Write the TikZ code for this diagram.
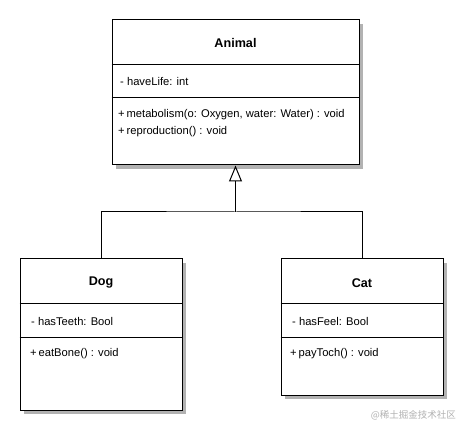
\documentclass[tikz,border=0pt]{standalone}
\usepackage{fontspec}
\setmainfont{Liberation Sans}
\newfontfamily\cjk{Noto Sans CJK SC}
\usetikzlibrary{arrows.meta}
\tikzset{
  umlbox/.style={draw=black, line width=1pt, fill=white, rectangle, inner sep=0pt},
  umlshadow/.style={fill=black!30, draw=none},
  title/.style={font=\fontsize{12.6}{14}\selectfont\bfseries, inner sep=0pt},
  member/.style={font=\fontsize{11.2}{12}\selectfont, anchor=west, inner sep=0pt},
  conn/.style={draw=black, line width=1pt},
  inherit/.style={conn, -{Triangle[open, length=16pt, width=13pt, line width=1pt]}},
}
\begin{document}
\begin{tikzpicture}[x=1pt, y=-1pt]
\fill[white] (0,0) rectangle (468,435);
\useasboundingbox (0,0) rectangle (468,435);
% shadows
\fill[umlshadow] (116,24) rectangle (363,169);
\fill[umlshadow] (24,263) rectangle (186,414);
\fill[umlshadow] (285,263) rectangle (447,399);
% boxes
\node[umlbox, minimum width=247pt, minimum height=145pt] (animal) at (235.5,92.5) {};
\node[umlbox, minimum width=162pt, minimum height=151pt] (dog) at (101,334.5) {};
\node[umlbox, minimum width=162pt, minimum height=136pt] (cat) at (362,327) {};
% compartments
\draw[conn] (animal.west |- 0,65) -- (animal.east |- 0,65);
\draw[conn] (animal.west |- 0,98) -- (animal.east |- 0,98);
\draw[conn] (dog.west |- 0,304) -- (dog.east |- 0,304);
\draw[conn] (dog.west |- 0,337) -- (dog.east |- 0,337);
\draw[conn] (cat.west |- 0,304) -- (cat.east |- 0,304);
\draw[conn] (cat.west |- 0,337) -- (cat.east |- 0,337);
% texts
\node[title] (animalname) at (235.5,43) {Animal};
\node[member] (animalattr) at (120,82) {- haveLife: int};
\node[member] (animalop1) at (118,115) {+\,metabolism(o: Oxygen, water: Water) : void};
\node[member] (animalop2) at (118,132) {+\,reproduction() : void};
\node[title] (dogname) at (101,283) {Dog};
\node[member] (dogattr) at (31,321) {- hasTeeth: Bool};
\node[member] (dogop) at (30,354) {+\,eatBone() : void};
\node[title] (catname) at (362,283) {Cat};
\node[member] (catattr) at (292,321) {- hasFeel: Bool};
\node[member] (catop) at (290,354) {+\,payToch() : void};
% generalisation
\coordinate (bar) at (235.5,212);
\draw[conn] (dog.north) |- (bar) -| (cat.north);
\draw[inherit] (bar) -- (animal.south);
% watermark
\node[font=\cjk\fontsize{9.5}{11}\selectfont, text=black!30, anchor=east, inner sep=0pt] (mark) at (456,415) {@稀土掘金技术社区};
\end{tikzpicture}
\end{document}
